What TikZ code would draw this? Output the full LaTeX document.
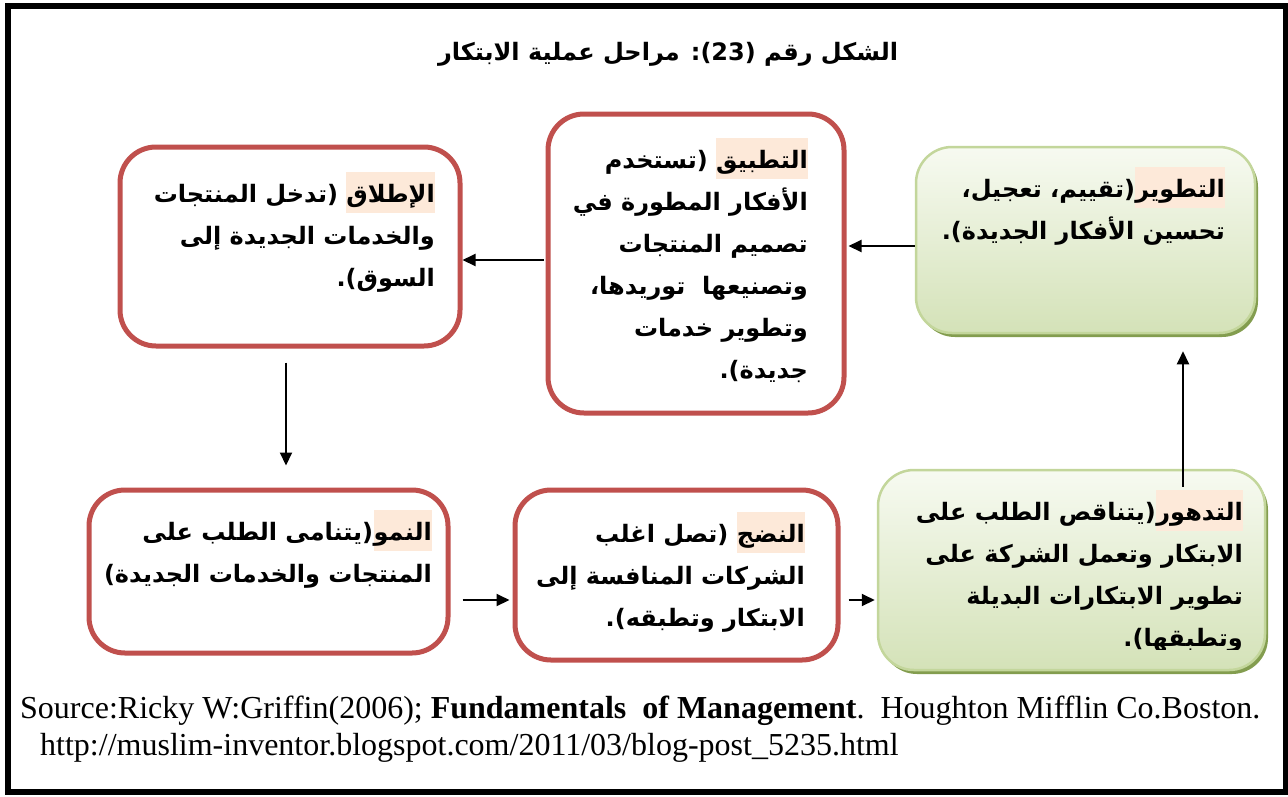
\documentclass[tikz,border=0pt]{standalone}
\usepackage{fontspec}
\setmainfont{Liberation Serif}
\newfontfamily\arabicfont[Script=Arabic]{DejaVu Sans}
\TeXXeTstate=1
\usetikzlibrary{arrows.meta,shadows}

\definecolor{stageRed}{HTML}{C0504D}
\definecolor{stageGreen}{HTML}{C3D69B}
\definecolor{greenTop}{HTML}{F7FAF1}
\definecolor{greenBot}{HTML}{D4E2B8}
\definecolor{greenShadow}{HTML}{76923C}
\definecolor{stageHl}{HTML}{FDE9D9}

\tikzset{
  redbox/.style={draw=stageRed, line width=5pt, rounded corners=36pt, fill=white,
    inner sep=0pt},
  greenbox/.style={draw=stageGreen, line width=2.5pt, rounded corners=36pt,
    top color=greenTop, bottom color=greenBot, inner sep=0pt,
    drop shadow={shadow xshift=3pt, shadow yshift=-4pt, fill=greenShadow, opacity=0.9}},
  arabic/.style={font=\arabicfont\bfseries\fontsize{24}{42}\selectfont, inner sep=0pt},
  % highlighted stage name that opens each description
  stagename/.style={arabic, fill=stageHl, text height=30pt, text depth=11pt, anchor=base east},
  % remainder of the opening line
  stagelead/.style={arabic, anchor=base east},
  % following lines of the description
  stagebody/.style={arabic, align=right, anchor=north east},
  flow/.style={line width=2pt, -{Triangle[length=13pt,width=12pt]}},
}

\begin{document}
\begin{tikzpicture}[x=1pt,y=-1pt]
\useasboundingbox (0,0) rectangle (1288,796);
\draw[line width=6pt] (8,5.5) rectangle (1285.5,792);

% title
\node[font=\arabicfont\bfseries\fontsize{24}{30}\selectfont, anchor=base] (title) at (668,60)
  {\beginR الشكل رقم (23): مراحل عملية الابتكار\endR};

% stage boxes
\node[greenbox, minimum width=339pt, minimum height=186pt] (dev) at (1085.5,240) {};
\node[redbox, minimum width=296pt, minimum height=299pt] (app) at (696,263.5) {};
\node[redbox, minimum width=340pt, minimum height=199pt] (launch) at (290,246.5) {};
\node[redbox, minimum width=359pt, minimum height=163pt] (growth) at (268.5,571.5) {};
\node[redbox, minimum width=323pt, minimum height=170pt] (mature) at (676.5,575) {};
\node[greenbox, minimum width=387pt, minimum height=200pt] (decline) at (1071.5,570) {};

% development
\node[stagename] (devname) at (1225,197) {\beginR التطوير\endR};
\node[stagelead] (devlead) at (devname.base west) {\beginR(تقييم، تعجيل،\endR};
\node[stagebody] (devbody) at (1225,209.6)
  {\beginR\strut تحسين الأفكار الجديدة).\endR};

% application
\node[stagename] (appname) at (808,168) {\beginR التطبيق\endR};
\node[stagelead] (applead) at ([xshift=-8pt]appname.base west) {\beginR(تستخدم\endR};
\node[stagebody] (appbody) at (808,180.6)
  {\beginR\strut الأفكار المطورة في\endR\\
   \beginR\strut تصميم المنتجات\endR\\
   \beginR\strut وتصنيعها\ \ توريدها،\endR\\
   \beginR\strut وتطوير خدمات\endR\\
   \beginR\strut جديدة).\endR};

% launch
\node[stagename] (launchname) at (435,202) {\beginR الإطلاق\endR};
\node[stagelead] (launchlead) at ([xshift=-8pt]launchname.base west) {\beginR(تدخل المنتجات\endR};
\node[stagebody] (launchbody) at (435,214.6)
  {\beginR\strut والخدمات الجديدة إلى\endR\\
   \beginR\strut السوق).\endR};

% growth
\node[stagename] (growthname) at (432,540) {\beginR النمو\endR};
\node[stagelead] (growthlead) at (growthname.base west) {\beginR(يتنامى الطلب على\endR};
\node[stagebody] (growthbody) at (432,552.6)
  {\beginR\strut المنتجات والخدمات الجديدة)\endR};

% maturity
\node[stagename] (maturename) at (805,542) {\beginR النضج\endR};
\node[stagelead] (maturelead) at ([xshift=-8pt]maturename.base west) {\beginR(تصل اغلب\endR};
\node[stagebody] (maturebody) at (805,554.6)
  {\beginR\strut الشركات المنافسة إلى\endR\\
   \beginR\strut الابتكار وتطبقه).\endR};

% decline (last line runs into the box edge)
\node[stagename] (declinename) at (1243,520) {\beginR التدهور\endR};
\node[stagelead] (declinelead) at (declinename.base west) {\beginR(يتناقص الطلب على\endR};
\begin{scope}
  \clip ([yshift=-2pt]decline.north west) rectangle ([yshift=22pt]decline.south east);
  \node[stagebody] (declinebody) at (1243,532.6)
    {\beginR\strut الابتكار وتعمل الشركة على\endR\\
     \beginR\strut تطوير الابتكارات البديلة\endR\\
     \beginR\strut وتطبقها).\endR};
\end{scope}

% connectors between the stages
\draw[flow, shorten >=2pt] ([yshift=-6pt]dev.west) -- ([yshift=-6pt]dev.west -| app.east);
\draw[flow, shorten <=2pt] ([yshift=3.5pt]app.west) -- ([yshift=3.5pt]app.west -| launch.east);
\draw[flow, shorten <=14pt, shorten >=22pt] ([xshift=-4pt]launch.south)
  -- ([xshift=-4pt]launch.south |- growth.north);
\draw[flow, shorten <=12pt, shorten >=3pt] ([yshift=-28.5pt]growth.east)
  -- ([yshift=-28.5pt]growth.east -| mature.west);
\draw[flow, shorten <=8pt, shorten >=2pt] ([yshift=-25pt]mature.east)
  -- ([yshift=-25pt]mature.east -| decline.west);
\draw[flow, shorten <=-18pt, shorten >=17pt] ([xshift=111.5pt]decline.north)
  -- ([xshift=111.5pt]decline.north |- dev.south);

% source
\node[anchor=base west, inner sep=0pt, font=\fontsize{32}{36}\selectfont] (src) at (20,718)
  {Source:Ricky W:Griffin(2006); \textbf{Fundamentals\ \ of Management}.\ \ Houghton Mifflin Co.Boston.};
\node[anchor=base west, inner sep=0pt, font=\fontsize{32}{36}\selectfont] (url) at (40,755)
  {http://muslim-inventor.blogspot.com/2011/03/blog-post\_5235.html};
\end{tikzpicture}
\end{document}
